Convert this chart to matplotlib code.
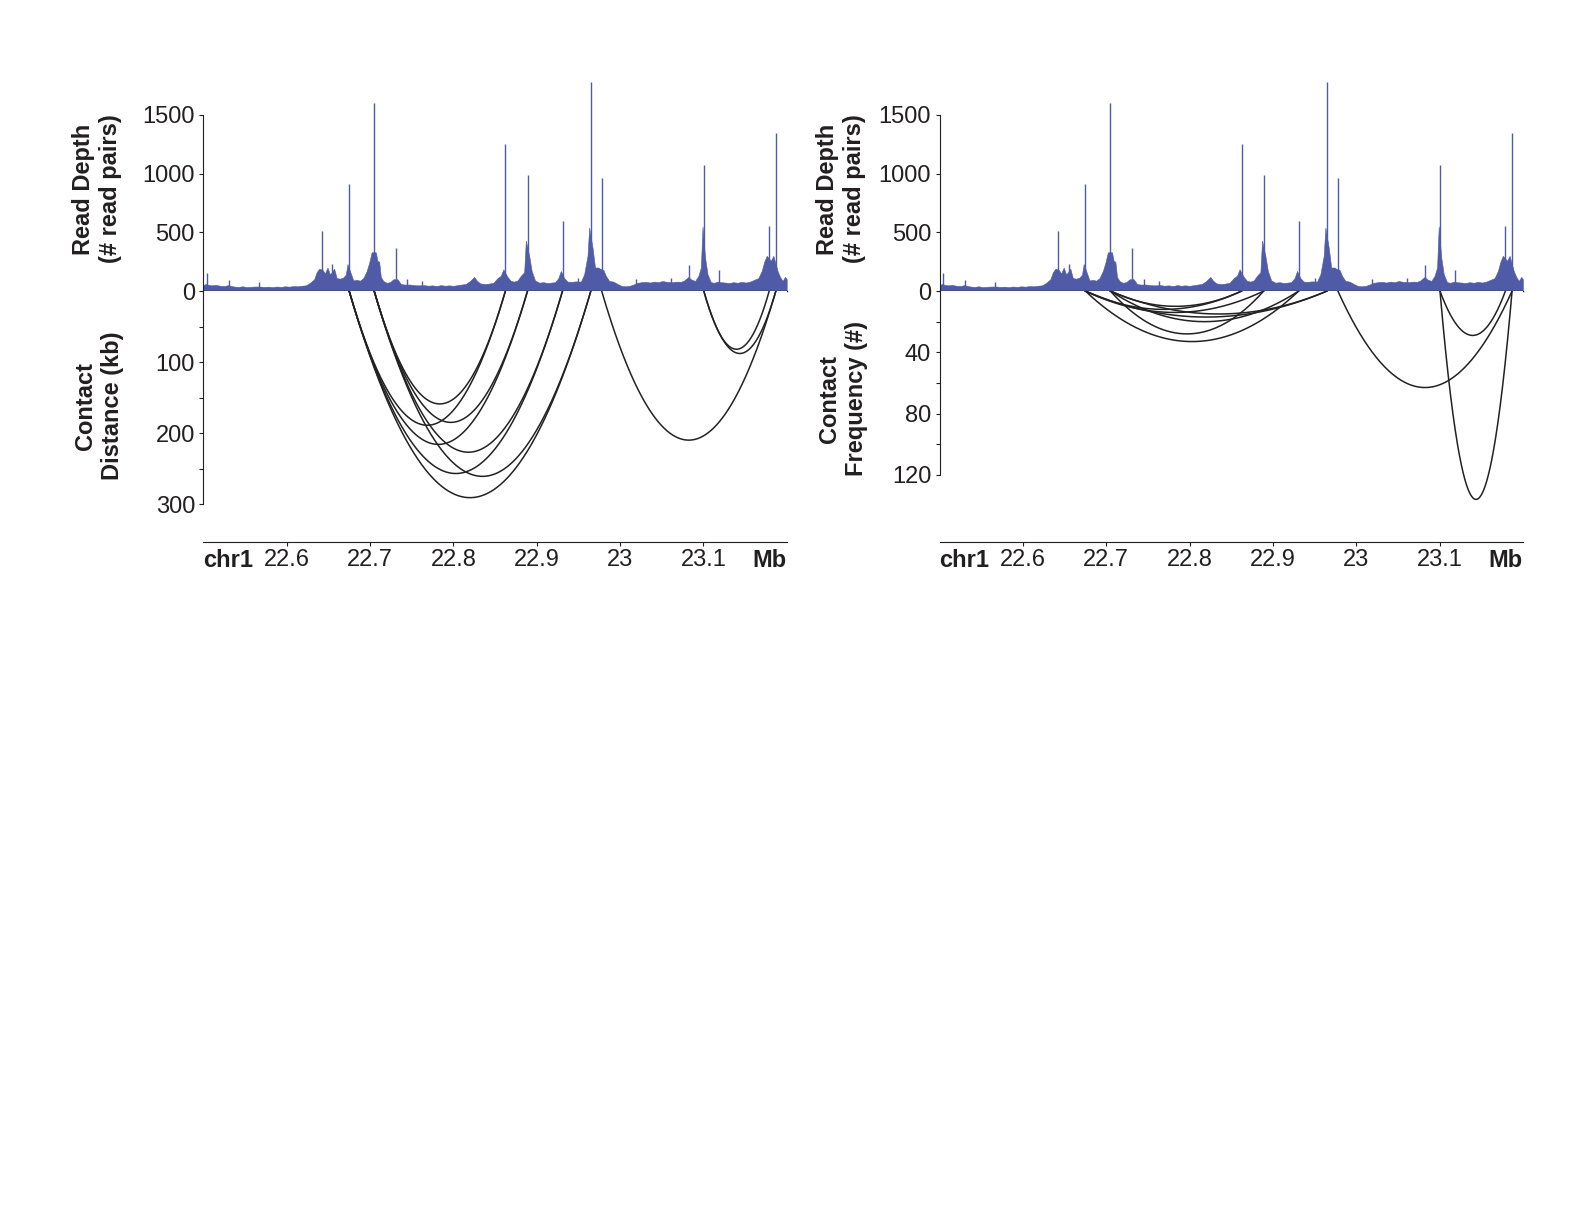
import numpy as np
import matplotlib
matplotlib.use("Agg")
import matplotlib.pyplot as plt
from matplotlib.ticker import FixedLocator

plt.rcParams['font.family'] = ['Liberation Sans', 'DejaVu Sans']

# === Read depth: background level (Mb, # read pairs) ===
depth_pos = [22.500, 22.503, 22.505, 22.510, 22.515, 22.520, 22.525, 22.530, 22.532, 22.537,
             22.542, 22.547, 22.552, 22.557, 22.562, 22.568, 22.573, 22.578, 22.583, 22.588,
             22.593, 22.598, 22.603, 22.608, 22.613, 22.618, 22.623, 22.628, 22.633, 22.636,
             22.639, 22.641, 22.643, 22.646, 22.649, 22.652, 22.657, 22.660, 22.664, 22.668,
             22.671, 22.673, 22.677, 22.680, 22.684, 22.688, 22.692, 22.696, 22.699, 22.702,
             22.707, 22.709, 22.711, 22.713, 22.716, 22.720, 22.724, 22.728, 22.733, 22.737,
             22.741, 22.748, 22.753, 22.758, 22.765, 22.770, 22.775, 22.780, 22.785, 22.790,
             22.795, 22.800, 22.805, 22.810, 22.815, 22.820, 22.825, 22.828, 22.832, 22.837,
             22.842, 22.848, 22.853, 22.857, 22.860, 22.865, 22.869, 22.873, 22.877, 22.881,
             22.885, 22.887, 22.891, 22.894, 22.898, 22.903, 22.908, 22.913, 22.918, 22.922,
             22.926, 22.929, 22.933, 22.937, 22.942, 22.947, 22.953, 22.957, 22.961, 22.963,
             22.967, 22.970, 22.974, 22.976, 22.980, 22.983, 22.987, 22.992, 22.997, 23.002,
             23.007, 23.012, 23.016, 23.021, 23.026, 23.031, 23.036, 23.041, 23.046, 23.051,
             23.056, 23.063, 23.068, 23.073, 23.077, 23.082, 23.085, 23.090, 23.094, 23.097,
             23.099, 23.102, 23.105, 23.109, 23.113, 23.117, 23.121, 23.126, 23.131, 23.136,
             23.141, 23.146, 23.151, 23.156, 23.161, 23.166, 23.170, 23.173, 23.176, 23.181,
             23.184, 23.189, 23.192, 23.195, 23.198, 23.200]
depth_val = [50, 60, 55, 48, 52, 45, 42, 50, 45, 38,
             35, 40, 33, 36, 38, 38, 35, 37, 33, 38,
             35, 40, 37, 42, 40, 45, 48, 70, 100, 160,
             190, 185, 180, 150, 200, 140, 190, 110, 105, 115,
             140, 230, 150, 90, 95, 88, 110, 170, 240, 330,
             330, 255, 250, 120, 85, 70, 75, 100, 100, 60,
             55, 55, 50, 48, 50, 45, 48, 42, 50, 45,
             48, 44, 50, 55, 60, 85, 120, 90, 65, 60,
             62, 70, 110, 130, 185, 120, 86, 80, 90, 130,
             160, 430, 300, 170, 90, 71, 75, 68, 72, 75,
             110, 171, 110, 80, 78, 82, 80, 143, 300, 540,
             371, 200, 200, 190, 180, 129, 86, 80, 60, 43,
             40, 45, 55, 70, 75, 78, 72, 80, 75, 85,
             78, 75, 80, 78, 90, 120, 100, 85, 129, 200,
             550, 286, 143, 75, 70, 80, 75, 72, 68, 75,
             70, 78, 72, 80, 95, 110, 171, 250, 300, 257,
             300, 171, 120, 86, 120, 100]

# === Read depth: sharp peaks ===
peak_pos = [22.504, 22.531, 22.567, 22.642, 22.655, 22.675, 22.705, 22.7315, 22.745, 22.763,
            22.8625, 22.889, 22.931, 22.950, 22.965, 22.978, 23.019, 23.061, 23.083, 23.1005,
            23.119, 23.179, 23.187]
peak_val = [157, 90, 77, 510, 230, 910, 1600, 370, 105, 86,
            1250, 990, 600, 109, 1780, 960, 106, 114, 220, 1070,
            180, 550, 1350]

# === Contacts: anchors (Mb) ===
arc_start = [22.675, 22.675, 22.675, 22.675, 22.705, 22.705, 22.705, 22.705, 22.978, 23.1005, 23.1005]
arc_end = [22.8625, 22.889, 22.931, 22.965, 22.8625, 22.889, 22.931, 22.965, 23.187, 23.179, 23.187]
# left panel: contact distance (kb)
dist_kb = [189, 216, 257, 291, 159, 185, 227, 261, 210, 82, 88]
# right panel: contact frequency (#)
freq_n = [12, 14, 33, 17, 10, 28, 20, 15, 63, 29, 136]

x_ticks = [22.6, 22.7, 22.8, 22.9, 23.0, 23.1]
x_ticklabels = ['22.6', '22.7', '22.8', '22.9', '23', '23.1']

W, H = 1584, 1224
blue = '#4f5ba6'
ink = '#231f20'
FS = 17

fig = plt.figure(figsize=(W / 100, H / 100), dpi=100)


def px_axes(x0, y_top, w, h):
    return fig.add_axes([x0 / W, 1 - (y_top + h) / H, w / W, h / H])


def draw_panel(x0, arc_vals, arc_ylim, major, minor, arc_label, lab_x, lab_y2):
    # --- read depth track ---
    ax = px_axes(x0, 70, 583.4, 221)
    ax.fill_between(depth_pos, 0, depth_val, color=blue, lw=0.4)
    ax.vlines(peak_pos, 0, peak_val, color=blue, lw=1.0)
    ax.set_xlim(22.5, 23.2)
    ax.set_ylim(0, 1883)
    for s in ['top', 'right']:
        ax.spines[s].set_visible(False)
    ax.spines['left'].set_bounds(0, 1500)
    ax.spines['left'].set_color(ink)
    ax.spines['left'].set_linewidth(0.8)
    ax.spines['bottom'].set_color(ink)
    ax.spines['bottom'].set_linewidth(1.0)
    ax.set_xticks([])
    ax.set_yticks([0, 500, 1000, 1500])
    ax.tick_params(axis='y', length=3, width=0.8, pad=3, labelsize=FS, colors=ink)

    # --- contact arcs ---
    bx = px_axes(x0, 291, 583.4, 250.7)
    t = np.linspace(0, 1, 300)
    for s, e, d in zip(arc_start, arc_end, arc_vals):
        bx.plot(s + (e - s) * t, 4 * d * t * (1 - t), color='#222222', lw=1.1)
    bx.set_xlim(22.5, 23.2)
    bx.set_ylim(arc_ylim, 0)
    for s in ['top', 'right']:
        bx.spines[s].set_visible(False)
    bx.spines['left'].set_bounds(0, major[-1])
    for s in ['left', 'bottom']:
        bx.spines[s].set_color(ink)
        bx.spines[s].set_linewidth(0.8)
    bx.yaxis.set_major_locator(FixedLocator(major))
    bx.yaxis.set_minor_locator(FixedLocator(minor))
    bx.tick_params(axis='y', which='both', length=3, width=0.8, pad=3, labelsize=FS, colors=ink)
    bx.set_xticks(x_ticks)
    bx.set_xticklabels(x_ticklabels)
    bx.tick_params(axis='x', length=3, width=0.8, pad=2, labelsize=FS, colors=ink)
    bx.annotate('chr1', xy=(0, 0), xycoords='axes fraction', xytext=(0, -5),
                textcoords='offset points', ha='left', va='top', fontsize=FS,
                fontweight='bold', color=ink)
    bx.annotate('Mb', xy=(1, 0), xycoords='axes fraction', xytext=(0, -5),
                textcoords='offset points', ha='right', va='top', fontsize=FS,
                fontweight='bold', color=ink)

    # --- axis titles ---
    fig.text(lab_x / W, 1 - 189 / H, 'Read Depth\n(# read pairs)', rotation=90,
             ha='center', va='center', multialignment='center', fontsize=FS,
             fontweight='bold', color=ink, linespacing=1.2)
    fig.text((lab_x + 2) / W, 1 - lab_y2 / H, arc_label, rotation=90,
             ha='center', va='center', multialignment='center', fontsize=FS,
             fontweight='bold', color=ink, linespacing=1.2)


draw_panel(203.3, dist_kb, 353, [100, 200, 300], [50, 150, 250],
           'Contact\nDistance (kb)', 97, 406)
draw_panel(939.5, freq_n, 163.6, [40, 80, 120], [20, 60, 100],
           'Contact\nFrequency (#)', 841, 399)

fig.savefig('out.png', dpi=100)
